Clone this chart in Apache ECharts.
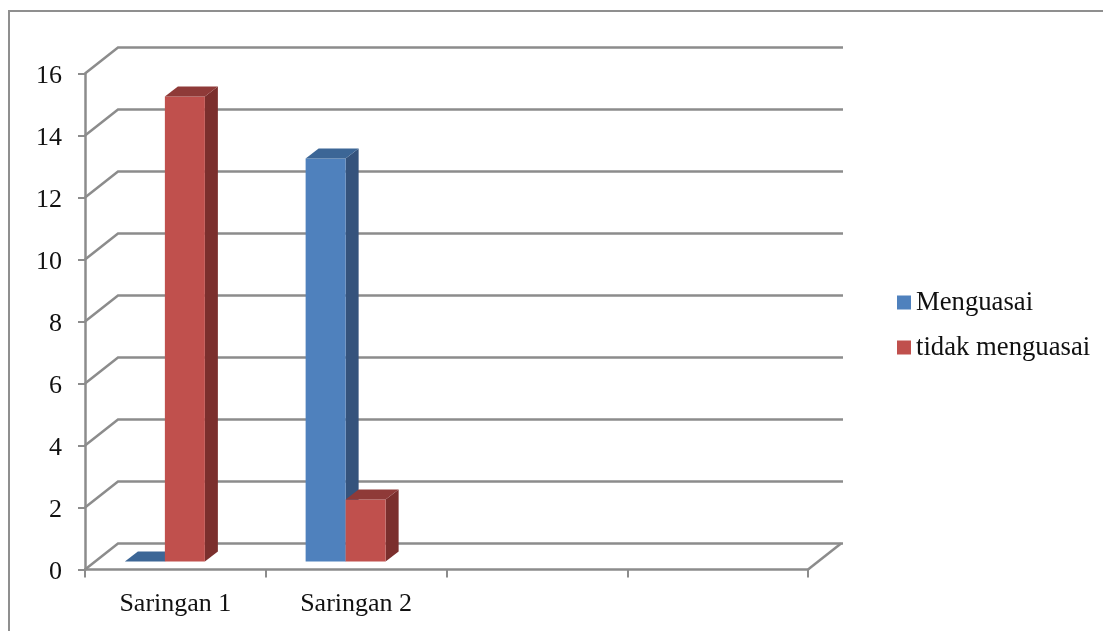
<!DOCTYPE html>
<html>
<head>
<meta charset="utf-8">
<style>html,body{margin:0;padding:0;background:#fff}#c{width:1103px;height:631px}</style>
<script src="https://cdn.jsdelivr.net/npm/echarts@6/dist/echarts.min.js"></script>
</head>
<body>
<div id="c"></div>
<script>
const categories = ['Saringan 1', 'Saringan 2', '', ''];
const menguasai = [0, 13];
const tidakMenguasai = [15, 2];
const yTicks = [0, 2, 4, 6, 8, 10, 12, 14, 16];

const FONT = '"Liberation Serif","Times New Roman",serif';
const LINE = '#8c8c8c';
const LINE_W = 2.5;
const WALL = [33, -26];
const DEPTH = [13, -10];
const BAR_W = 40;
const LIFT = -8;

function wallItem(params, api) {
  const v = api.value(1);
  const band = api.size([1, 0])[0];
  const n = categories.length;
  const p = api.coord([0, v]);
  const x0 = p[0] - band / 2;
  const x1 = x0 + band * n;
  const bx0 = x0 + WALL[0], by = p[1] + WALL[1], bx1 = x1 + WALL[0] + 2;
  const points = [[x0, p[1]], [bx0, by], [bx1, by]];
  const children = [{ type: 'polyline', shape: { points }, style: { fill: null, stroke: LINE, lineWidth: LINE_W } }];
  if (v === 0) {
    children.push({ type: 'line', shape: { x1: x1, y1: p[1], x2: x1 + WALL[0], y2: by }, style: { stroke: LINE, lineWidth: LINE_W } });
  }
  return { type: 'group', children };
}

function barRenderer(offset, front, top, side) {
  return function (params, api) {
    const cat = api.value(0), v = api.value(1);
    const a = api.coord([cat, v]), b = api.coord([cat, 0]);
    const x = a[0] + offset, xr = x + BAR_W;
    const yt = a[1] + LIFT, yb = b[1] + LIFT;
    const dx = DEPTH[0], dy = DEPTH[1];
    const children = [];
    if (v > 0) {
      children.push({ type: 'polygon', shape: { points: [[xr, yt], [xr + dx, yt + dy], [xr + dx, yb + dy], [xr, yb]] }, style: { fill: side } });
      children.push({ type: 'polygon', shape: { points: [[x, yt], [xr, yt], [xr, yb], [x, yb]] }, style: { fill: front } });
    }
    children.push({ type: 'polygon', shape: { points: [[x, yt], [xr, yt], [xr + dx, yt + dy], [x + dx, yt + dy]] }, style: { fill: top } });
    return { type: 'group', children };
  };
}

const chart = echarts.init(document.getElementById('c'), null, { renderer: 'canvas', width: 1103, height: 631 });
chart.setOption({
  animation: false,
  backgroundColor: '#ffffff',
  grid: { left: 85, right: 295, top: 73.5, bottom: 61.5, containLabel: false },
  graphic: [{
    type: 'polyline', silent: true,
    shape: { points: [[9, 631], [9, 11], [1103, 11]] },
    style: { fill: null, stroke: '#8f8f8f', lineWidth: 2 }
  }],
  legend: {
    orient: 'vertical', left: 897, top: 289, padding: 0, itemWidth: 14, itemHeight: 14, itemGap: 18,
    data: [
      { name: 'Menguasai', icon: 'rect' },
      { name: 'tidak menguasai', icon: 'rect' }
    ],
    textStyle: { fontFamily: FONT, fontSize: 26.7, color: '#111', padding: [-4, 0, 0, 0] },
    selectedMode: false
  },
  xAxis: {
    type: 'category', data: categories,
    axisLine: { lineStyle: { color: LINE, width: LINE_W } },
    axisTick: { show: true, length: 8, alignWithLabel: false, lineStyle: { color: LINE, width: 2 } },
    axisLabel: { fontFamily: FONT, fontSize: 26, color: '#111', margin: 22, interval: 0 },
    splitLine: { show: false }
  },
  yAxis: {
    type: 'value', min: 0, max: 16, interval: 2,
    axisLine: { show: true, lineStyle: { color: LINE, width: LINE_W } },
    axisTick: { show: true, length: 7, lineStyle: { color: LINE, width: 2 } },
    axisLabel: { fontFamily: FONT, fontSize: 26, lineHeight: 26, color: '#111', margin: 23, verticalAlign: 'top', padding: [-10, 0, 0, 0] },
    splitLine: { show: false }
  },
  series: [
    {
      type: 'custom', name: 'walls', silent: true, z: 1,
      renderItem: wallItem, encode: { x: 0, y: 1 },
      data: yTicks.map(v => [0, v])
    },
    {
      type: 'custom', name: 'Menguasai', z: 2,
      itemStyle: { color: '#4F81BD' },
      renderItem: barRenderer(-50.5, '#4F81BD', '#3C6696', '#35537C'), encode: { x: 0, y: 1 },
      data: menguasai.map((v, i) => [i, v])
    },
    {
      type: 'custom', name: 'tidak menguasai', z: 3,
      itemStyle: { color: '#C0504D' },
      renderItem: barRenderer(-10.5, '#C0504D', '#8F3A38', '#7B2F2D'), encode: { x: 0, y: 1 },
      data: tidakMenguasai.map((v, i) => [i, v])
    }
  ]
});
</script>
</body>
</html>
